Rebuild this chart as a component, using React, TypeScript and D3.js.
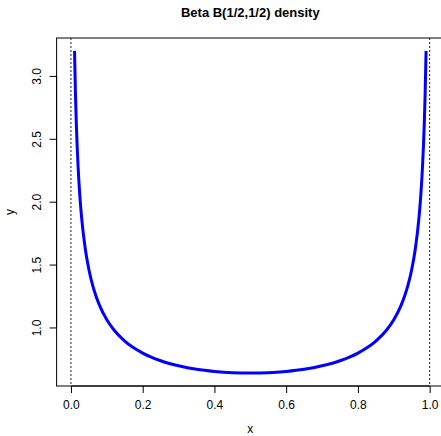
import React, { useEffect, useRef } from 'react';
import * as d3 from 'd3';

// points
const xs = [0.01, 0.0125, 0.015, 0.02, 0.025, 0.03, 0.04, 0.05, 0.06, 0.07, 0.08, 0.1, 0.12, 0.15, 0.2, 0.25, 0.3, 0.35, 0.4, 0.45, 0.5,
  0.55, 0.6, 0.65, 0.7, 0.75, 0.8, 0.85, 0.88, 0.9, 0.92, 0.93, 0.94, 0.95, 0.96, 0.97, 0.975, 0.98, 0.985, 0.9875, 0.99];
const ys = [3.199, 2.865, 2.619, 2.274, 2.039, 1.866, 1.624, 1.461, 1.340, 1.248, 1.173, 1.061, 0.980, 0.891, 0.796, 0.735, 0.695, 0.667, 0.650, 0.640, 0.637,
  0.640, 0.650, 0.667, 0.695, 0.735, 0.796, 0.891, 0.980, 1.061, 1.173, 1.248, 1.340, 1.461, 1.624, 1.866, 2.039, 2.274, 2.619, 2.865, 3.199];
const xTicks = [0, 0.2, 0.4, 0.6, 0.8, 1.0];
const yTicks = [1.0, 1.5, 2.0, 2.5, 3.0];
const vLines = [0, 1];

const App = () => {
  const ref = useRef(null);

  useEffect(() => {
    if (!ref.current) return;
    const svg = d3.select(ref.current);
    svg.selectAll('*').remove();

    const left = 56.6, right = 444, top = 38, bottom = 386;
    const x = d3.scaleLinear().domain([-0.04, 1.04]).range([left, right]);
    const yMin = d3.min(ys), yMax = d3.max(ys);
    const pad = (yMax - yMin) * 0.04;
    const y = d3.scaleLinear().domain([yMin - pad, yMax + pad]).range([bottom, top]);

    const font = 'Liberation Sans, Arial, Helvetica, sans-serif';

    svg.append('text')
      .attr('x', (left + right) / 2)
      .attr('y', 17)
      .attr('text-anchor', 'middle')
      .attr('font-family', font)
      .attr('font-weight', 'bold')
      .attr('font-size', 13)
      .text('Beta B(1/2,1/2) density');

    // dotted lines at the support edges
    svg.selectAll('.vline')
      .data(vLines)
      .enter()
      .append('line')
      .attr('x1', d => x(d))
      .attr('x2', d => x(d))
      .attr('y1', top)
      .attr('y2', bottom)
      .attr('stroke', '#222')
      .attr('stroke-width', 1)
      .attr('stroke-dasharray', '2,2');

    const line = d3.line()
      .x((d, i) => x(xs[i]))
      .y((d, i) => y(ys[i]))
      .curve(d3.curveMonotoneX);

    svg.append('path')
      .datum(xs)
      .attr('d', line)
      .attr('fill', 'none')
      .attr('stroke', '#0000ff')
      .attr('stroke-width', 3);

    // box
    svg.append('rect')
      .attr('x', left)
      .attr('y', top)
      .attr('width', right - left)
      .attr('height', bottom - top)
      .attr('fill', 'none')
      .attr('stroke', '#000')
      .attr('stroke-width', 1);

    // x axis
    svg.append('g')
      .attr('transform', `translate(0, ${bottom})`)
      .call(d3.axisBottom(x).tickValues(xTicks).tickFormat(d3.format('.1f')).tickSizeOuter(0).tickSize(7).tickPadding(7))
      .call(g => g.select('.domain').attr('d', `M${x(0)},0H${x(1)}`))
      .call(g => g.selectAll('text').attr('font-size', 12).attr('font-family', font).attr('fill', '#000'));

    // y axis
    svg.append('g')
      .attr('transform', `translate(${left}, 0)`)
      .call(d3.axisLeft(y).tickValues(yTicks).tickFormat(d3.format('.1f')).tickSizeOuter(0).tickSize(7))
      .call(g => g.select('.domain').attr('d', `M0,${y(1)}V${y(3)}`))
      .call(g => g.selectAll('text')
        .attr('font-size', 12)
        .attr('font-family', font)
        .attr('fill', '#000')
        .attr('x', 0)
        .attr('y', 0)
        .attr('dy', null)
        .attr('text-anchor', 'middle')
        .attr('transform', 'translate(-15.5, 0) rotate(-90)'));

    svg.append('text')
      .attr('x', (left + right) / 2)
      .attr('y', 433)
      .attr('text-anchor', 'middle')
      .attr('font-family', font)
      .attr('font-size', 12)
      .text('x');

    svg.append('text')
      .attr('transform', `translate(14, ${(top + bottom) / 2}) rotate(-90)`)
      .attr('text-anchor', 'middle')
      .attr('font-family', font)
      .attr('font-size', 12)
      .text('y');
  }, []);

  return (
    <svg ref={ref} width={441} height={436} style={{ position: 'absolute', left: 0, top: 0, background: '#fff' }} />
  );
};

export default App;
